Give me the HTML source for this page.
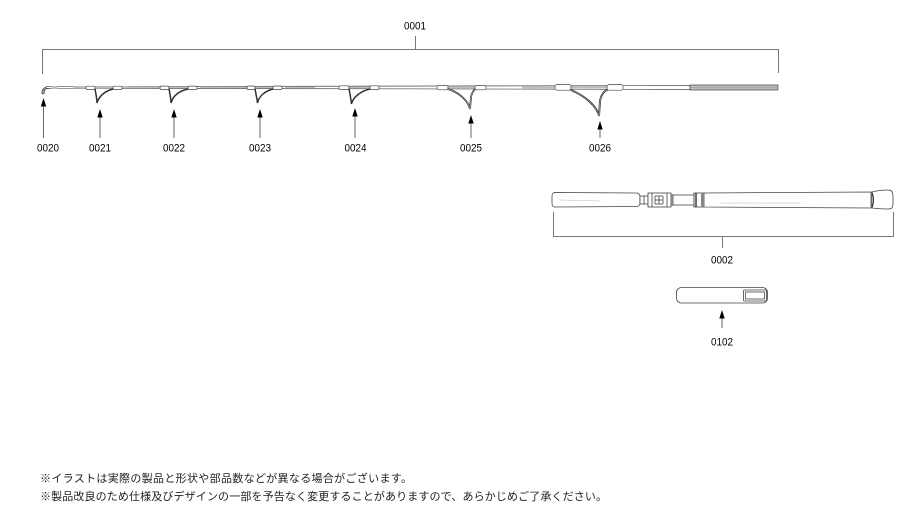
<!DOCTYPE html>
<html>
<head>
<meta charset="utf-8">
<style>
html,body{margin:0;padding:0;background:#fff;}
svg{display:block;}
.lbl{font-family:"Liberation Sans",Arial,sans-serif;font-size:11px;fill:#000;text-anchor:middle;}
.jp{font-family:"Liberation Sans","Noto Sans CJK JP",sans-serif;font-size:11px;fill:#222;}
</style>
</head>
<body>
<svg width="914" height="530" viewBox="0 0 914 530" xmlns="http://www.w3.org/2000/svg">
<rect width="914" height="530" fill="#fff"/>

<!-- Top bracket 0001 -->
<g stroke="#777" stroke-width="1" fill="none">
  <path d="M42.5,74 L42.5,49.5 L778.5,49.5 L778.5,73"/>
  <line x1="415.5" y1="36" x2="415.5" y2="49.5"/>
</g>
<text class="lbl" x="415" y="29.5" textLength="22" lengthAdjust="spacingAndGlyphs">0001</text>

<!-- Rod body -->
<g>
  <path d="M42,94 C41.5,90 43,87.6 47,87 L52,86.7 L52,88.2 L47,88.6 C45,89.2 44,91 44,94 Z" fill="#999" stroke="#333" stroke-width="0.6"/>
  <polygon points="46,86.7 690,85.6 690,89.4 46,88.2" fill="#fff" stroke="#444" stroke-width="0.7"/>
  <g fill="#bdbdbd">
    <rect x="52" y="86.5" width="5" height="1.8"/>
    <rect x="73" y="86.6" width="13" height="1.6"/>
    <rect x="95" y="86.7" width="18" height="1.6"/>
    <rect x="123" y="86.6" width="37" height="1.6"/>
    <rect x="169" y="86.6" width="19" height="1.6"/>
    <rect x="200" y="86.5" width="47" height="1.7"/>
    <rect x="255" y="86.5" width="18" height="1.7"/>
    <rect x="285" y="86.5" width="30" height="1.7"/>
    <rect x="349" y="86.4" width="21" height="1.9"/>
    <rect x="448" y="86.3" width="27" height="2"/>
    <rect x="522" y="86.1" width="33" height="2.3"/>
    <rect x="571" y="86" width="36" height="2.4"/>
  </g>
  <rect x="690" y="85" width="88" height="5" fill="#bbb" stroke="#444" stroke-width="0.7"/>
  <line x1="690" y1="87.5" x2="778" y2="87.5" stroke="#999" stroke-width="0.5"/>
</g>

<!-- Guides -->
<g fill="none" stroke="#333" stroke-width="1.5" stroke-linecap="round">
  <path d="M95,89 C96,94 97,99 97,103 C99,96 105,91 113,89"/>
  <path d="M169,89 C170,94 171,99 171,103 C173,96 179,91 188,89"/>
  <path d="M255,89 C256,94 257,99 257.5,103 C259,96 265,91 273,89"/>
  <path d="M349,89 C350,94 351,100 351.5,104 C353,97 361,91 370,89"/>
  <path d="M448,89 C458,92 468,100 470,109 L471,97 C472,92 474,90 475,89" stroke-width="1.8"/>
  <path d="M571,90 C585,96 597,106 599,116 L600,101 C601,95 604,91 607,90" stroke-width="1.9"/>
</g>
<g fill="none" stroke="#fff" stroke-width="0.4">
  <path d="M448,89 C458,92 468,100 470,109 L471,97 C472,92 474,90 475,89"/>
  <path d="M571,90 C585,96 597,106 599,116 L600,101 C601,95 604,91 607,90"/>
</g>
<g fill="#fff" stroke="#444" stroke-width="0.7">
  <rect x="86" y="86.2" width="9" height="3.4" rx="1.5"/>
  <rect x="113" y="86.2" width="9" height="3.4" rx="1.5"/>
  <rect x="160" y="86.1" width="9" height="3.5" rx="1.5"/>
  <rect x="188" y="86.1" width="9" height="3.5" rx="1.5"/>
  <rect x="247" y="86" width="8" height="3.6" rx="1.5"/>
  <rect x="273" y="86" width="9" height="3.6" rx="1.5"/>
  <rect x="339" y="85.8" width="10" height="3.8" rx="1.5"/>
  <rect x="370" y="85.8" width="9" height="3.8" rx="1.5"/>
  <rect x="437" y="85.4" width="11" height="4.4" rx="1.8"/>
  <rect x="475" y="85.4" width="11" height="4.4" rx="1.8"/>
  <rect x="555" y="84.6" width="16" height="5.6" rx="2"/>
  <rect x="607" y="84.6" width="16" height="5.6" rx="2"/>
</g>

<!-- Arrows -->
<g stroke="#666" stroke-width="1">
  <line x1="43.5" y1="105" x2="43.5" y2="138"/>
  <line x1="100" y1="116" x2="100" y2="138"/>
  <line x1="174" y1="116" x2="174" y2="138"/>
  <line x1="260" y1="116" x2="260" y2="138"/>
  <line x1="355" y1="115" x2="355" y2="138"/>
  <line x1="471" y1="122" x2="471" y2="138"/>
  <line x1="600" y1="128" x2="600" y2="138"/>
  <line x1="722" y1="317" x2="722" y2="328"/>
</g>
<g fill="#000">
  <polygon points="43.5,98 40.8,106.5 46.2,106.5"/>
  <polygon points="100,109 97.3,117.5 102.7,117.5"/>
  <polygon points="174,109 171.3,117.5 176.7,117.5"/>
  <polygon points="260,109 257.3,117.5 262.7,117.5"/>
  <polygon points="355,108 352.3,116.5 357.7,116.5"/>
  <polygon points="471,115 468.3,123.5 473.7,123.5"/>
  <polygon points="600,121 597.3,129.5 602.7,129.5"/>
  <polygon points="722,310 719.3,318.5 724.7,318.5"/>
</g>

<!-- Labels -->
<text class="lbl" x="48" y="151.5" textLength="22" lengthAdjust="spacingAndGlyphs">0020</text>
<text class="lbl" x="100" y="151.5" textLength="22" lengthAdjust="spacingAndGlyphs">0021</text>
<text class="lbl" x="174" y="151.5" textLength="22" lengthAdjust="spacingAndGlyphs">0022</text>
<text class="lbl" x="260" y="151.5" textLength="22" lengthAdjust="spacingAndGlyphs">0023</text>
<text class="lbl" x="355.5" y="151.5" textLength="22" lengthAdjust="spacingAndGlyphs">0024</text>
<text class="lbl" x="471" y="151.5" textLength="22" lengthAdjust="spacingAndGlyphs">0025</text>
<text class="lbl" x="600" y="151.5" textLength="22" lengthAdjust="spacingAndGlyphs">0026</text>

<!-- Handle 0002 -->
<g fill="#fff" stroke="#444" stroke-width="0.8">
  <path d="M555,192.5 L636,193 C639,193 640,194.5 640,197 L640,203 C640,205.5 639,206.5 636,206.5 L555,207 C552.5,207 552,205.5 552,203 L552,196.5 C552,194 552.5,192.5 555,192.5 Z"/>
  <rect x="640" y="196" width="8" height="8"/>
  <rect x="648" y="193" width="23" height="14"/>
  <rect x="673" y="195" width="21" height="10"/>
  <rect x="694" y="193" width="10" height="14"/>
  <path d="M704,193 L871,192 L871,208 L704,207 Z"/>
  <path d="M872,192 C876,191 882,190 888,190 C892,190 893,192 893,198 L893,202 C893,208 892,209 888,209 C882,209 876,208.5 872,208 Z"/>
</g>
<g stroke="#444" stroke-width="0.8" fill="none">
  <line x1="644" y1="196" x2="644" y2="204"/>
  <line x1="652" y1="193" x2="652" y2="207"/>
  <line x1="655" y1="196" x2="655" y2="204"/>
  <line x1="659" y1="196" x2="659" y2="204"/>
  <line x1="663" y1="196" x2="663" y2="204"/>
  <line x1="667" y1="193" x2="667" y2="207"/>
  <line x1="655" y1="196" x2="663" y2="196"/>
  <line x1="655" y1="200" x2="663" y2="200"/>
  <line x1="655" y1="204" x2="663" y2="204"/>
  <line x1="696" y1="193" x2="696" y2="207" stroke="#111" stroke-width="1.2"/>
  <path d="M872,192.5 C874,197 874,203 872,207.5" stroke="#111"/>
</g>
<rect x="671" y="194" width="2" height="12" fill="#888"/>
<rect x="701" y="193" width="3" height="14" fill="#888"/>
<g stroke="#bbb" stroke-width="0.6">
  <line x1="560" y1="200" x2="600" y2="201"/>
  <line x1="720" y1="203" x2="800" y2="203"/>
</g>

<!-- Bracket 0002 -->
<g stroke="#777" stroke-width="1" fill="none">
  <path d="M553.5,212 L553.5,236.5 L893.5,236.5 L893.5,212"/>
  <line x1="722.5" y1="236.5" x2="722.5" y2="248"/>
</g>
<text class="lbl" x="722" y="263.5" textLength="22" lengthAdjust="spacingAndGlyphs">0002</text>

<!-- 0102 -->
<g fill="#fff" stroke="#444" stroke-width="0.8">
  <rect x="676.5" y="287.5" width="91" height="15.5" rx="5"/>
  <rect x="743.5" y="290" width="23" height="11" rx="1"/>
  <rect x="745.5" y="292" width="19" height="7"/>
</g>
<text class="lbl" x="722" y="345.5" textLength="22" lengthAdjust="spacingAndGlyphs">0102</text>

<!-- Notes -->
<text class="jp" x="40" y="482" textLength="372" lengthAdjust="spacing">※イラストは実際の製品と形状や部品数などが異なる場合がございます。</text>
<text class="jp" x="40" y="500" textLength="567" lengthAdjust="spacing">※製品改良のため仕様及びデザインの一部を予告なく変更することがありますので、あらかじめご了承ください。</text>
</svg>
</body>
</html>
